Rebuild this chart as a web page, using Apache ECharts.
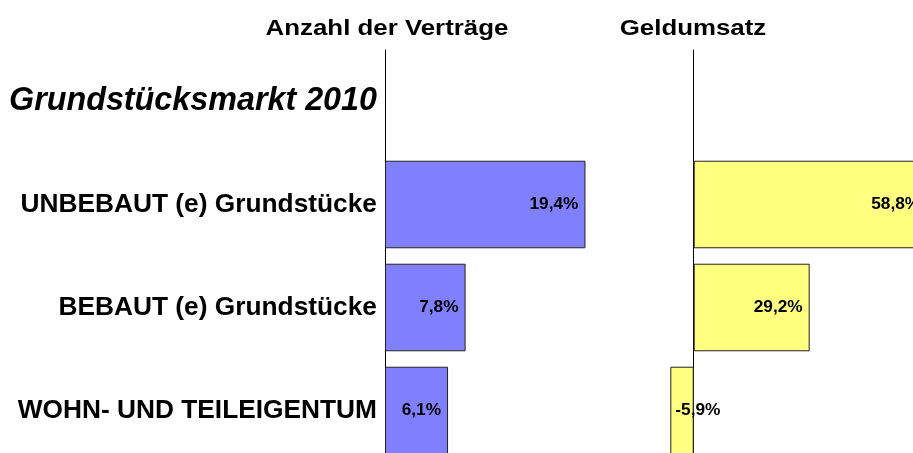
<!DOCTYPE html>
<html>
<head>
<meta charset="UTF-8">
<title>Grundstücksmarkt 2010</title>
<script src="https://cdn.jsdelivr.net/npm/echarts@6/dist/echarts.min.js"></script>
<style>
html, body { margin: 0; padding: 0; background: #fff; }
#main { width: 913px; height: 453px; }
</style>
</head>
<body>
<div id="main"></div>
<script>
// Kategorien (erste Zeile ist die Überschrift ohne Balken)
var kategorien = ['Grundstücksmarkt 2010', 'UNBEBAUT (e) Grundstücke', 'BEBAUT (e) Grundstücke', 'WOHN- UND TEILEIGENTUM'];
// Veränderung in % gegenüber Vorjahr
var vertraege = ['-', 19.4, 7.8, 6.1];
var geldumsatz = ['-', 58.8, 29.2, -5.9];

var FONT = '"Liberation Sans", Arial, sans-serif';

function prozent(p) {
    if (typeof p.value !== 'number') return '';
    return p.value.toFixed(1).replace('.', ',') + '%';
}

// negative Balken bekommen das Label auf der linken Seite
function balken(werte) {
    return werte.map(function (v) {
        if (typeof v === 'number' && v < 0) {
            return { value: v, label: { position: 'insideLeft', distance: 5 } };
        }
        return v;
    });
}

var labelStil = {
    show: true,
    position: 'insideRight',
    distance: 7,
    formatter: prozent,
    color: '#000',
    fontFamily: FONT,
    fontWeight: 'bold',
    fontSize: 17.3
};

function kopf(text, x) {
    // Überschrift etwas breiter gezogen wie im Original
    return {
        type: 'text', x: x, y: 29, scaleX: 1.175,
        style: { text: text, fontFamily: FONT, fontWeight: 'bold', fontSize: 22, fill: '#000', align: 'center', verticalAlign: 'middle' }
    };
}

var myChart = echarts.init(document.getElementById('main'));

var option = {
    animation: false,
    backgroundColor: '#fff',
    graphic: [
        kopf('Anzahl der Verträge', 387),
        kopf('Geldumsatz', 693)
    ],
    grid: [
        { left: 385, top: 50, width: 217, height: 412, outerBoundsMode: 'none' },
        { left: 654, top: 50, width: 278, height: 412, outerBoundsMode: 'none' }
    ],
    xAxis: [
        { type: 'value', gridIndex: 0, min: 0, max: 21, show: false },
        { type: 'value', gridIndex: 1, min: -10, max: 60, show: false }
    ],
    yAxis: [
        {
            type: 'category', gridIndex: 0, inverse: true, data: kategorien,
            axisLine: { lineStyle: { color: '#000', width: 1 } },
            axisTick: { show: false },
            splitLine: { show: false },
            axisLabel: {
                margin: 8,
                formatter: function (v, i) { return i === 0 ? '{h|' + v + '}' : '{k|' + v + '}'; },
                rich: {
                    h: { fontFamily: FONT, fontWeight: 'bold', fontStyle: 'italic', fontSize: 32.3, color: '#000' },
                    k: { fontFamily: FONT, fontWeight: 'bold', fontSize: 26.3, color: '#000' }
                }
            }
        },
        {
            type: 'category', gridIndex: 1, inverse: true, data: kategorien,
            axisLine: { onZero: true, lineStyle: { color: '#000', width: 1 } },
            axisTick: { show: false },
            axisLabel: { show: false },
            splitLine: { show: false }
        }
    ],
    series: [
        {
            name: 'Anzahl der Verträge', type: 'bar', xAxisIndex: 0, yAxisIndex: 0,
            data: balken(vertraege), barCategoryGap: '15%',
            itemStyle: { color: '#8080FF', borderColor: '#222', borderWidth: 1 },
            label: labelStil
        },
        {
            name: 'Geldumsatz', type: 'bar', xAxisIndex: 1, yAxisIndex: 1,
            data: balken(geldumsatz), barCategoryGap: '15%',
            itemStyle: { color: '#FFFF80', borderColor: '#222', borderWidth: 1 },
            label: labelStil
        }
    ]
};

myChart.setOption(option);
</script>
</body>
</html>
